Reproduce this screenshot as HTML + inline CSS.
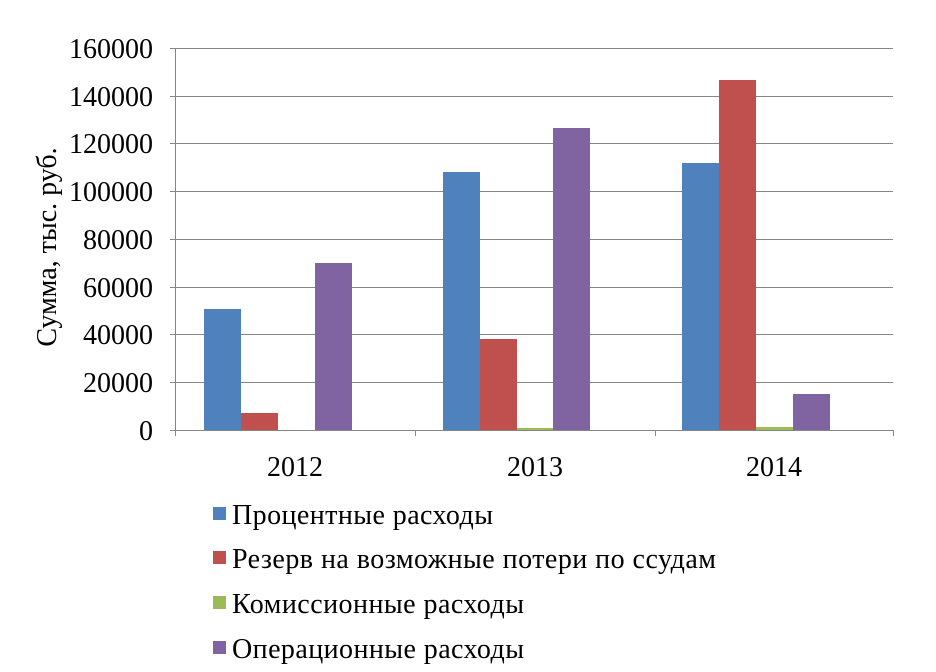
<!DOCTYPE html>
<html><head><meta charset="utf-8"><style>
html,body{margin:0;padding:0;background:#fff;}
svg{display:block;}
text{font-family:"Liberation Serif","DejaVu Serif",serif;fill:#000;}
</style></head><body>
<svg width="936" height="672" viewBox="0 0 936 672" xmlns="http://www.w3.org/2000/svg">
<g stroke="#868686" stroke-width="1">
<line x1="175" y1="48.5" x2="893" y2="48.5"/>
<line x1="175" y1="96.5" x2="893" y2="96.5"/>
<line x1="175" y1="143.5" x2="893" y2="143.5"/>
<line x1="175" y1="191.5" x2="893" y2="191.5"/>
<line x1="175" y1="239.5" x2="893" y2="239.5"/>
<line x1="175" y1="287.5" x2="893" y2="287.5"/>
<line x1="175" y1="334.5" x2="893" y2="334.5"/>
<line x1="175" y1="382.5" x2="893" y2="382.5"/>
<line x1="175.5" y1="48" x2="175.5" y2="430"/>
<line x1="170" y1="48.5" x2="175" y2="48.5"/>
<line x1="170" y1="96.5" x2="175" y2="96.5"/>
<line x1="170" y1="143.5" x2="175" y2="143.5"/>
<line x1="170" y1="191.5" x2="175" y2="191.5"/>
<line x1="170" y1="239.5" x2="175" y2="239.5"/>
<line x1="170" y1="287.5" x2="175" y2="287.5"/>
<line x1="170" y1="334.5" x2="175" y2="334.5"/>
<line x1="170" y1="382.5" x2="175" y2="382.5"/>
<line x1="170" y1="430.5" x2="175" y2="430.5"/>
</g>
<rect x="204" y="309" width="37" height="121" fill="#4F81BD"/>
<rect x="241" y="413" width="37" height="17" fill="#C0504D"/>
<rect x="315" y="263" width="37" height="167" fill="#8064A2"/>
<rect x="443" y="172" width="37" height="258" fill="#4F81BD"/>
<rect x="480" y="339" width="37" height="91" fill="#C0504D"/>
<rect x="517" y="428" width="37" height="2" fill="#9BBB59"/>
<rect x="553" y="128" width="37" height="302" fill="#8064A2"/>
<rect x="682" y="163" width="37" height="267" fill="#4F81BD"/>
<rect x="719" y="80" width="37" height="350" fill="#C0504D"/>
<rect x="756" y="427" width="37" height="3" fill="#9BBB59"/>
<rect x="793" y="394" width="37" height="36" fill="#8064A2"/>
<g stroke="#868686" stroke-width="1">
<line x1="175" y1="430.5" x2="893" y2="430.5"/>
<line x1="175.5" y1="430" x2="175.5" y2="436"/>
<line x1="415.5" y1="430" x2="415.5" y2="436"/>
<line x1="655.5" y1="430" x2="655.5" y2="436"/>
<line x1="893.5" y1="430" x2="893.5" y2="436"/>
</g>
<g font-size="28" text-anchor="end">
<text x="153" y="58">160000</text>
<text x="153" y="106">140000</text>
<text x="153" y="153">120000</text>
<text x="153" y="201">100000</text>
<text x="153" y="249">80000</text>
<text x="153" y="297">60000</text>
<text x="153" y="344">40000</text>
<text x="153" y="392">20000</text>
<text x="153" y="440">0</text>
</g>
<g font-size="28" text-anchor="middle">
<text x="295" y="476">2012</text>
<text x="535" y="476">2013</text>
<text x="774" y="476">2014</text>
</g>
<text font-size="28" text-anchor="middle" transform="translate(56,247) rotate(-90)">Сумма,  тыс. руб.</text>
<rect x="213" y="507" width="13" height="13" fill="#4F81BD"/>
<rect x="213" y="551" width="13" height="13" fill="#C0504D"/>
<rect x="213" y="596" width="13" height="13" fill="#9BBB59"/>
<rect x="213" y="641" width="13" height="13" fill="#8064A2"/>
<g font-size="28">
<text x="232" y="524" textLength="261" lengthAdjust="spacing">Процентные расходы</text>
<text x="232" y="568" textLength="484" lengthAdjust="spacing">Резерв на возможные потери по ссудам</text>
<text x="232" y="613" textLength="292" lengthAdjust="spacing">Комиссионные расходы</text>
<text x="232" y="658" textLength="292" lengthAdjust="spacing">Операционные расходы</text>
</g>
</svg>
</body></html>
